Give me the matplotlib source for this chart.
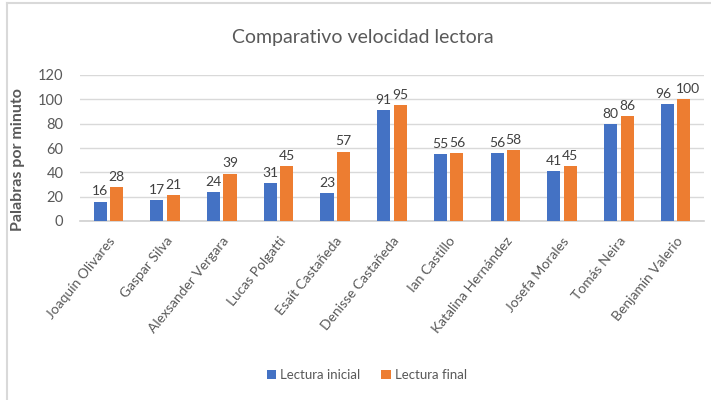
import matplotlib
matplotlib.use("Agg")
import matplotlib.pyplot as plt
from matplotlib.lines import Line2D
import numpy as np

plt.rcParams['font.family'] = ['Lato', 'DejaVu Sans']

nombres = ["Joaquín Olivares", "Gaspar Silva", "Alexsander Vergara", "Lucas Polgatti",
           "Esaít Castañeda", "Denisse Castañeda", "Ian Castillo", "Katalina Hernández",
           "Josefa Morales", "Tomás Neira", "Benjamín Valerio"]
lectura_inicial = [16, 17, 24, 31, 23, 91, 55, 56, 41, 80, 96]
lectura_final = [28, 21, 39, 45, 57, 95, 56, 58, 45, 86, 100]
y_ticks = [0, 20, 40, 60, 80, 100, 120]

azul = "#4472C4"
naranja = "#ED7D31"
gris_texto = "#595959"

fig = plt.figure(figsize=(7.11, 4.0), dpi=100)
ax = fig.add_axes([0.1125, 0.4475, 0.8775, 0.365])

x = np.arange(len(nombres))
w = 0.23
off = 0.145
b1 = ax.bar(x - off, lectura_inicial, w, color=azul, label="Lectura inicial", zorder=3)
b2 = ax.bar(x + off, lectura_final, w, color=naranja, label="Lectura final", zorder=3)

# value labels; a pair is spread apart when the wider three-digit label would collide
for rb, ro, vi, vf in zip(b1, b2, lectura_inicial, lectura_final):
    spread = 3 if len(str(vf)) > 2 or len(str(vi)) > 2 else 0
    for r, v, dx in ((rb, vi, -spread), (ro, vf, spread)):
        ax.annotate(str(v), (r.get_x() + r.get_width() / 2, v), xytext=(dx, 3),
                    textcoords="offset points", ha="center", va="bottom",
                    fontsize=10, color="#404040")

ax.set_xlim(-0.5, len(nombres) - 0.5)
ax.set_ylim(0, 120)
ax.set_yticks(y_ticks)
ax.set_yticklabels([str(t) for t in y_ticks], fontsize=10.5, color=gris_texto)
ax.set_xticks(x)
ax.set_xticklabels(nombres, rotation=51, ha="right", rotation_mode="anchor",
                   fontsize=10, color=gris_texto)
ax.tick_params(axis="both", length=0)
ax.tick_params(axis="y", pad=12)
ax.tick_params(axis="x", pad=10)
ax.grid(axis="y", color="#D9D9D9", linewidth=1, zorder=0)
for s in ("top", "right", "left"):
    ax.spines[s].set_visible(False)
ax.spines["bottom"].set_color("#D0D0D0")
ax.spines["bottom"].set_linewidth(1.2)

ax.set_ylabel("Palabras por minuto", fontsize=11.5, color=gris_texto,
              fontweight="bold")
ax.yaxis.set_label_coords(-0.088, 0.42)

fig.text(0.51, 0.905, "Comparativo velocidad lectora", ha="center", va="center",
         fontsize=14, color=gris_texto)

fig.legend(handles=[b1, b2], labels=["Lectura inicial", "Lectura final"],
           loc="center", bbox_to_anchor=(0.516, 0.062), ncol=2, frameon=False,
           fontsize=9.5, handlelength=0.7, handleheight=0.7, handletextpad=0.3,
           columnspacing=1.6, labelcolor=gris_texto)

# chart frame
fig.add_artist(Line2D([7 / 711, 7 / 711], [0, 1 - 3 / 400], color="#D9D9D9",
                      linewidth=1.5, transform=fig.transFigure))
fig.add_artist(Line2D([7 / 711, 1], [1 - 3 / 400, 1 - 3 / 400], color="#D9D9D9",
                      linewidth=1.5, transform=fig.transFigure))

fig.savefig("out.png", dpi=100)
